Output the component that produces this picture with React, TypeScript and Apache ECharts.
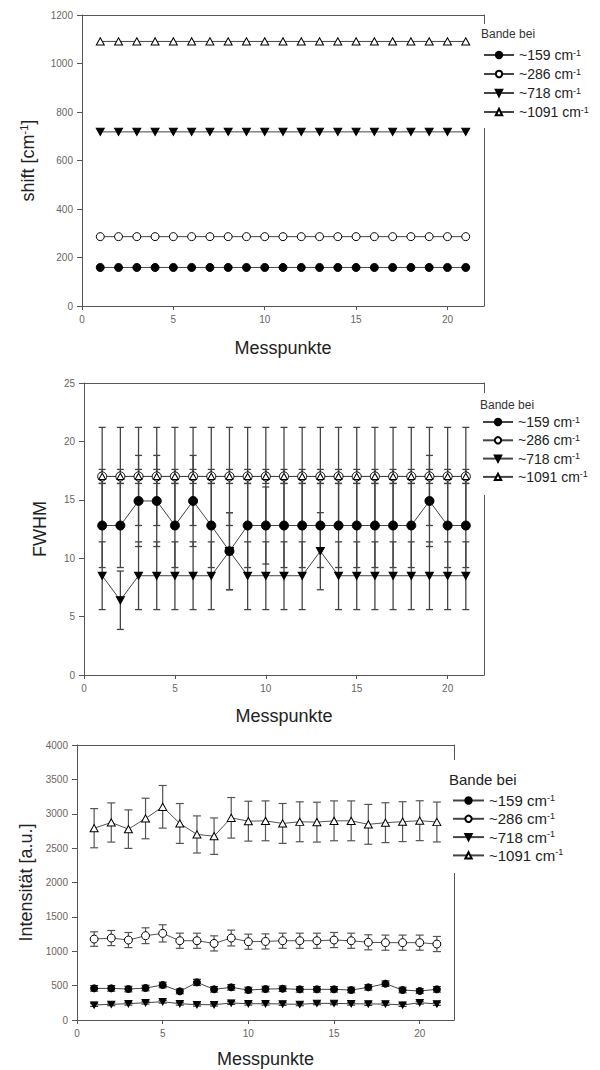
import React, { useEffect, useRef } from "react";
import * as echarts from "echarts";

const points = [1, 2, 3, 4, 5, 6, 7, 8, 9, 10, 11, 12, 13, 14, 15, 16, 17, 18, 19, 20, 21];
const bands = ["~159 cm", "~286 cm", "~718 cm", "~1091 cm"];
const xTicks = [0, 5, 10, 15, 20];

// shift [cm-1]
const shift159 = [159, 159, 159, 159, 159, 159, 159, 159, 159, 159, 159, 159, 159, 159, 159, 159, 159, 159, 159, 159, 159];
const shift286 = [286, 286, 286, 286, 286, 286, 286, 286, 286, 286, 286, 286, 286, 286, 286, 286, 286, 286, 286, 286, 286];
const shift718 = [718, 718, 718, 718, 718, 718, 718, 718, 718, 718, 718, 718, 718, 718, 718, 718, 718, 718, 718, 718, 718];
const shift1091 = [1091, 1091, 1091, 1091, 1091, 1091, 1091, 1091, 1091, 1091, 1091, 1091, 1091, 1091, 1091, 1091, 1091, 1091, 1091, 1091, 1091];

// FWHM
const fw159 = [12.8, 12.8, 14.9, 14.9, 12.8, 14.9, 12.8, 10.6, 12.8, 12.8, 12.8, 12.8, 12.8, 12.8, 12.8, 12.8, 12.8, 12.8, 14.9, 12.8, 12.8];
const fw159Err = [3.6, 3.6, 3.9, 3.9, 3.6, 3.9, 3.6, 3.3, 3.6, 3.3, 3.6, 3.6, 3.6, 3.6, 3.6, 3.6, 3.6, 3.6, 3.9, 3.6, 3.6];
const fw286 = [17, 17, 17, 17, 17, 17, 17, 17, 17, 17, 17, 17, 17, 17, 17, 17, 17, 17, 17, 17, 17];
const fw286Err = [0.6, 0.6, 0.6, 0.6, 0.6, 0.6, 0.6, 0.6, 0.6, 0.6, 0.6, 0.6, 0.6, 0.6, 0.6, 0.6, 0.6, 0.6, 0.6, 0.6, 0.6];
const fw718 = [8.5, 6.4, 8.5, 8.5, 8.5, 8.5, 8.5, 10.6, 8.5, 8.5, 8.5, 8.5, 10.6, 8.5, 8.5, 8.5, 8.5, 8.5, 8.5, 8.5, 8.5];
const fw718Err = [2.9, 2.5, 2.9, 2.9, 2.9, 2.9, 2.9, 3.3, 2.9, 2.9, 2.9, 2.9, 3.3, 2.9, 2.9, 2.9, 2.9, 2.9, 2.9, 2.9, 2.9];
const fw1091 = [17, 17, 17, 17, 17, 17, 17, 17, 17, 17, 17, 17, 17, 17, 17, 17, 17, 17, 17, 17, 17];
const fw1091Err = [4.2, 4.2, 4.2, 4.2, 4.2, 4.2, 4.2, 4.2, 4.2, 4.2, 4.2, 4.2, 4.2, 4.2, 4.2, 4.2, 4.2, 4.2, 4.2, 4.2, 4.2];

// Intensität [a.u.]
const in159 = [460, 460, 450, 465, 509, 417, 547, 446, 475, 436, 450, 455, 446, 446, 446, 436, 475, 528, 436, 422, 446];
const in159Err = [40, 40, 40, 40, 40, 35, 45, 40, 40, 40, 40, 40, 40, 40, 40, 40, 40, 40, 40, 35, 40];
const in286 = [1177, 1192, 1163, 1226, 1260, 1153, 1153, 1114, 1192, 1139, 1143, 1153, 1153, 1153, 1163, 1153, 1130, 1125, 1125, 1125, 1105];
const in286Err = [105, 110, 110, 115, 125, 110, 110, 110, 115, 110, 110, 110, 110, 110, 110, 110, 110, 110, 110, 110, 110];
const in718 = [218, 228, 237, 252, 266, 237, 223, 223, 247, 237, 237, 233, 228, 242, 242, 237, 233, 233, 218, 252, 233];
const in718Err = [20, 20, 20, 20, 20, 20, 20, 20, 20, 20, 20, 20, 20, 20, 20, 20, 20, 20, 20, 20, 20];
const in1091 = [2790, 2873, 2776, 2931, 3101, 2859, 2699, 2674, 2941, 2892, 2897, 2859, 2883, 2878, 2897, 2897, 2846, 2870, 2885, 2899, 2880];
const in1091Err = [285, 285, 280, 295, 310, 290, 270, 265, 295, 290, 290, 290, 290, 290, 290, 290, 290, 290, 290, 290, 290];

const FONT = "'Liberation Sans', Arial, Helvetica, sans-serif";
const DOWN_TRI = "path://M0,0 L10,0 L5,9 Z";
const UP_TRI = "path://M5,0 L10,9 L0,9 Z";

const markerStyles = [
  { symbol: "circle", color: "#000", border: "#000" },
  { symbol: "circle", color: "#fff", border: "#000" },
  { symbol: DOWN_TRI, color: "#000", border: "#000" },
  { symbol: UP_TRI, color: "#fff", border: "#000" },
];

const grids = [
  { left: 82, top: 15, width: 402, height: 291 },
  { left: 84, top: 383, width: 400, height: 292 },
  { left: 77, top: 745, width: 377, height: 275 },
];

function legendName(i: number) {
  return bands[i] + "-1";
}

export default function App() {
  const ref = useRef<HTMLDivElement>(null);
  useEffect(() => {
    if (!ref.current) return;
    const chart = echarts.init(ref.current, undefined, { renderer: "svg" });

    const tickLabel = { fontSize: 10, color: "#6b6560", fontFamily: FONT, formatter: (v: number) => String(v) };
    const axisLineStyle = { lineStyle: { color: "#555", width: 1 } };

    const nameRich = {
      n: { fontSize: 18, fontFamily: FONT, color: "#222", lineHeight: 20 },
      s: { fontSize: 11, fontFamily: FONT, color: "#222", lineHeight: 11, verticalAlign: "top" },
    };

    const xAxisNames = ["Messpunkte", "Messpunkte", "Messpunkte"];
    const xNameGaps = [33, 32, 30];
    const yCfg = [
      { min: 0, max: 1200, interval: 200, name: "{n|shift [cm}{s|-1}{n|]}", gap: 44 },
      { min: 0, max: 25, interval: 5, name: "{n|FWHM}", gap: 34 },
      { min: 0, max: 4000, interval: 500, name: "{n|Intensität [a.u.]}", gap: 40 },
    ];

    const xAxis: any[] = [];
    const yAxis: any[] = [];
    for (let g = 0; g < 3; g++) {
      xAxis.push({
        type: "value",
        gridIndex: g,
        min: 0,
        max: 22,
        interval: 5,
        name: xAxisNames[g],
        nameLocation: "middle",
        nameGap: xNameGaps[g],
        nameTextStyle: { fontSize: 18, color: "#222", fontFamily: FONT },
        axisLine: axisLineStyle,
        axisTick: { show: true, length: 4, lineStyle: { color: "#555" }, customValues: xTicks },
        axisLabel: { ...tickLabel, margin: 8, customValues: xTicks },
        splitLine: { show: false },
      });
      yAxis.push({
        type: "value",
        gridIndex: g,
        min: yCfg[g].min,
        max: yCfg[g].max,
        interval: yCfg[g].interval,
        name: yCfg[g].name,
        nameLocation: "middle",
        nameRotate: 90,
        nameGap: yCfg[g].gap,
        nameTextStyle: { rich: nameRich, fontFamily: FONT },
        axisLine: { show: true, ...axisLineStyle },
        axisTick: { show: true, length: 5, lineStyle: { color: "#555" } },
        axisLabel: { ...tickLabel, margin: 9 },
        splitLine: { show: false },
      });
    }
    for (let g = 0; g < 3; g++) {
      xAxis.push({
        type: "value",
        gridIndex: g,
        position: "top",
        min: 0,
        max: 22,
        axisLine: { show: true, onZero: false, ...axisLineStyle },
        axisTick: { show: false },
        axisLabel: { show: false },
        splitLine: { show: false },
      });
      yAxis.push({
        type: "value",
        gridIndex: g,
        position: "right",
        min: yCfg[g].min,
        max: yCfg[g].max,
        axisLine: { show: true, onZero: false, ...axisLineStyle },
        axisTick: { show: false },
        axisLabel: { show: false },
        splitLine: { show: false },
      });
    }

    const series: any[] = [];
    const makeErr = (g: number, vals: number[], errs: number[], cap: number, color: string, lw: number) => {
      series.push({
        type: "custom",
        xAxisIndex: g,
        yAxisIndex: g,
        z: 1,
        silent: true,
        data: points.map((x, i) => [x, vals[i] - errs[i], vals[i] + errs[i]]),
        encode: { x: 0, y: [1, 2] },
        renderItem: (params: any, api: any) => {
          const x = api.value(0);
          const lo = api.coord([x, api.value(1)]);
          const hi = api.coord([x, api.value(2)]);
          const style = { stroke: color, lineWidth: lw };
          return {
            type: "group",
            children: [
              { type: "line", shape: { x1: lo[0], y1: lo[1], x2: hi[0], y2: hi[1] }, style },
              { type: "line", shape: { x1: hi[0] - cap, y1: hi[1], x2: hi[0] + cap, y2: hi[1] }, style },
              { type: "line", shape: { x1: lo[0] - cap, y1: lo[1], x2: lo[0] + cap, y2: lo[1] }, style },
            ],
          };
        },
      });
    };
    const makeLine = (g: number, bandIdx: number, vals: number[], size: number, lineColor: string) => {
      const m = markerStyles[bandIdx];
      series.push({
        type: "line",
        name: legendName(bandIdx),
        xAxisIndex: g,
        yAxisIndex: g,
        z: 3,
        data: points.map((x, i) => [x, vals[i]]),
        symbol: m.symbol,
        symbolSize: m.symbol === "circle" ? size : [size, size * 0.9],
        showAllSymbol: true,
        lineStyle: { color: lineColor, width: 1 },
        itemStyle: { color: m.color, borderColor: m.border, borderWidth: 1, opacity: 1 },
        emphasis: { disabled: true },
      });
    };

    // chart 1
    makeLine(0, 0, shift159, 8, "#444");
    makeLine(0, 1, shift286, 8, "#444");
    makeLine(0, 2, shift718, 8, "#444");
    makeLine(0, 3, shift1091, 8, "#444");

    // chart 2
    makeErr(1, fw1091, fw1091Err, 3.5, "#444", 1.3);
    makeErr(1, fw286, fw286Err, 3.5, "#444", 1.3);
    makeErr(1, fw159, fw159Err, 3.5, "#444", 1.3);
    makeErr(1, fw718, fw718Err, 3.5, "#444", 1.3);
    makeLine(1, 1, fw286, 9, "#444");
    makeLine(1, 0, fw159, 9, "#444");
    makeLine(1, 2, fw718, 8, "#444");
    makeLine(1, 3, fw1091, 7, "#444");

    // chart 3
    makeErr(2, in1091, in1091Err, 4, "#555", 1.2);
    makeErr(2, in286, in286Err, 4, "#555", 1.2);
    makeErr(2, in159, in159Err, 4, "#333", 1.2);
    makeErr(2, in718, in718Err, 4, "#333", 1.2);
    makeLine(2, 0, in159, 7, "#444");
    makeLine(2, 1, in286, 8, "#555");
    makeLine(2, 2, in718, 7, "#444");
    makeLine(2, 3, in1091, 8, "#555");

    const legendRich = (fs: number, lh: number) => ({
      n: { fontSize: fs, fontFamily: FONT, color: "#222", lineHeight: lh },
      s: { fontSize: Math.round(fs * 0.62), fontFamily: FONT, color: "#222", lineHeight: Math.round(fs * 0.62), verticalAlign: "top" },
    });
    const legendNames = bands.map((_, i) => legendName(i));
    const legendFormatter = (name: string) => `{n|${name.replace(/-1$/, "")}}{s|-1}`;
    const legends = [
      { left: 483, top: 48, itemWidth: 30, itemHeight: 8, itemGap: 5, fs: 14, lh: 14 },
      { left: 482, top: 415, itemWidth: 30, itemHeight: 8, itemGap: 4.3, fs: 14, lh: 14 },
      { left: 452, top: 793, itemWidth: 31, itemHeight: 8, itemGap: 3.3, fs: 15, lh: 15 },
    ].map((l) => ({
      orient: "vertical",
      left: l.left,
      top: l.top,
      z: 10,
      padding: 0,
      itemWidth: l.itemWidth,
      itemHeight: l.itemHeight,
      itemGap: l.itemGap,
      selectedMode: false,
      data: legendNames,
      formatter: legendFormatter,
      textStyle: { fontFamily: FONT, color: "#222", rich: legendRich(l.fs, l.lh) },
    }));

    const graphic: any[] = [
      { type: "rect", z: 5, silent: true, shape: { x: 478, y: 24, width: 12, height: 104 }, style: { fill: "#fff" } },
      { type: "rect", z: 5, silent: true, shape: { x: 478, y: 393, width: 12, height: 102 }, style: { fill: "#fff" } },
      { type: "rect", z: 5, silent: true, shape: { x: 448, y: 760, width: 12, height: 113 }, style: { fill: "#fff" } },
      { type: "text", z: 6, x: 481, y: 34, style: { text: "Bande bei", fontSize: 12, fontFamily: FONT, fill: "#333", verticalAlign: "middle" } },
      { type: "text", z: 6, x: 480, y: 405, style: { text: "Bande bei", fontSize: 12, fontFamily: FONT, fill: "#333", verticalAlign: "middle" } },
      { type: "text", z: 6, x: 449, y: 779, style: { text: "Bande bei", fontSize: 15, fontFamily: FONT, fill: "#222", verticalAlign: "middle" } },
    ];

    chart.setOption({
      animation: false,
      backgroundColor: "#fff",
      textStyle: { fontFamily: FONT },
      grid: grids.map((g) => ({ ...g, containLabel: false })),
      xAxis,
      yAxis,
      legend: legends,
      graphic,
      series,
    });
    return () => chart.dispose();
  }, []);

  return (
    <div
      ref={ref}
      style={{ position: "absolute", left: 0, top: 0, width: 600, height: 1070, background: "#fff" }}
    />
  );
}
